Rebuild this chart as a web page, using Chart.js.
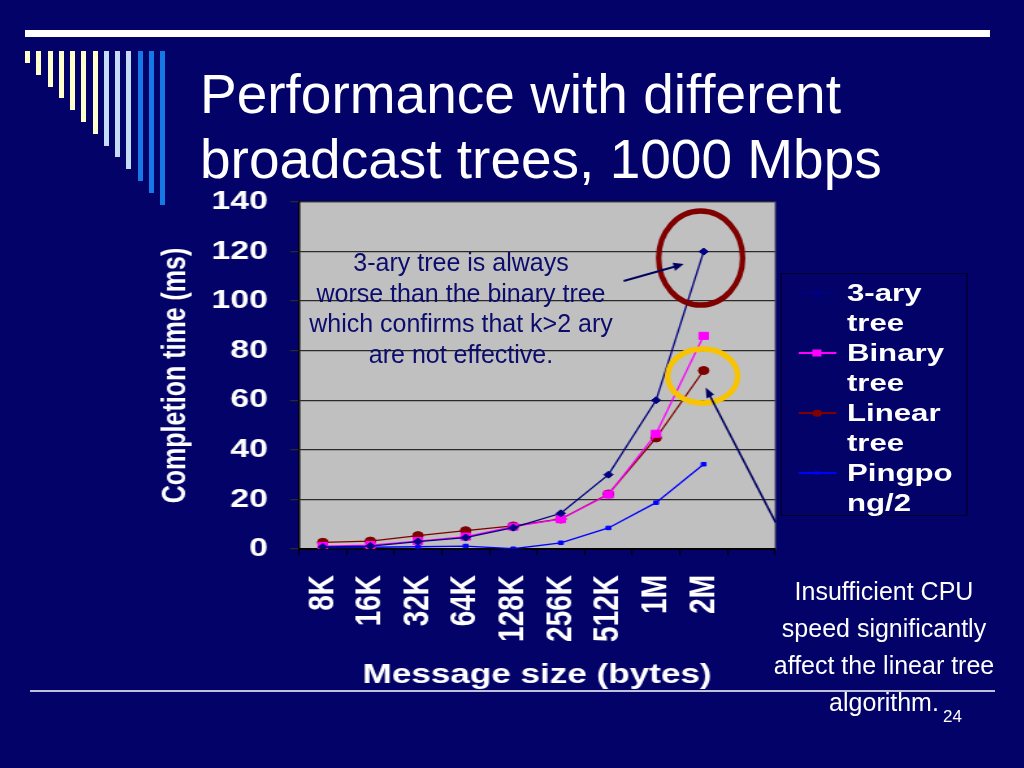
<!DOCTYPE html>
<html>
<head>
<meta charset="utf-8">
<script src="https://cdn.jsdelivr.net/npm/chart.js@4.4.1/dist/chart.umd.min.js"></script>
<style>
  html, body { margin: 0; padding: 0; }
  body {
    width: 1024px; height: 768px; position: relative; overflow: hidden;
    background: #020268; color: #fff;
    font-family: 'Liberation Sans', Arial, sans-serif;
  }
  .topline { position: absolute; left: 25px; top: 30px; width: 965px; height: 7px; background: #fff; }
  .bar { position: absolute; top: 51px; width: 5px; }
  .title { position: absolute; left: 200px; top: 62px; font-size: 55px; line-height: 65px; white-space: nowrap; }
  /* the chart object sits stretched horizontally on the slide */
  #chartBox { position: absolute; left: 150px; top: 0; width: 640px; height: 768px; transform-origin: 0 0; transform: scaleX(1.3); }
  #canvasWrap { position: absolute; left: 0; top: 0; width: 520px; height: 768px; }
  #legend {
    position: absolute; left: 484.6px; top: 273px; width: 144.6px; height: 243px;
    box-sizing: border-box; border: 1px solid #000030; padding-top: 4px;
    font-weight: bold; font-size: 24px; line-height: 30px;
  }
  .item { display: flex; padding-left: 13px; }
  .key { position: relative; width: 29px; height: 30px; flex: none; }
  .key .ln { position: absolute; left: 0; top: 14.3px; width: 29px; height: 1.4px; }
  .key .mk { position: absolute; left: 50%; top: 15px; transform: translate(-50%, -50%); }
  .lbl { width: 88px; margin-left: 8.5px; overflow-wrap: anywhere; }
  .callout { position: absolute; left: 261px; top: 247px; width: 400px; text-align: center; font-size: 25px; line-height: 30.5px; color: #0c0c6c; }
  .note { position: absolute; left: 754px; top: 573px; width: 260px; text-align: center; font-size: 25px; line-height: 37px; }
  .bottomline { position: absolute; left: 30px; top: 690px; width: 965px; height: 2px; background: #c0c0dc; }
  .pagenum { position: absolute; left: 943px; top: 708px; font-size: 17px; line-height: 17px; }
</style>
</head>
<body>
<div class="topline"></div>
<div id="bars"></div>
<div class="title">Performance with different<br>broadcast trees, 1000 Mbps</div>

<div id="chartBox">
  <div id="canvasWrap"><canvas id="chart"></canvas></div>
  <div id="legend"></div>
</div>

<div class="callout">3-ary tree is always<br>worse than the binary tree<br>which confirms that k&gt;2 ary<br>are not effective.</div>
<div class="bottomline"></div>
<div class="note">Insufficient CPU<br>speed significantly<br>affect the linear tree<br>algorithm.</div>
<div class="pagenum">24</div>

<script>
const S = 1.3; // horizontal stretch of the chart object

const sizes = ['8K', '16K', '32K', '64K', '128K', '256K', '512K', '1M', '2M', ''];
const threeAry = [0.8, 1.2, 3.0, 4.6, 8.6, 14.4, 30, 60, 120];
const binary = [1.2, 1.6, 3.2, 5.0, 9.0, 12.0, 22, 46.5, 86];
const linear = [2.7, 3.2, 5.4, 7.4, 9.3, 12.1, 22.2, 44.8, 72];
const pingpong = [0.5, 0.7, 0.9, 1.2, 0.1, 2.5, 8.5, 18.7, 34.2];

const seriesNames = ['3-ary tree', 'Binary tree', 'Linear tree', 'Pingpong/2'];
const seriesColors = ['#000080', '#ff00ff', '#800000', '#0000ff'];
const pointStyles = ['rectRot', 'rect', 'circle', 'rect'];
const pointSizes = [3.5, 5, 4, 2.5];

// slide decoration bars
const barColors = ['#ffffcc', '#ffffcc', '#ffffcc', '#ffffcc', '#ffffcc', '#ffffcc', '#ffffcc',
  '#c4dcf6', '#c4dcf6', '#c4dcf6', '#1478e6', '#1478e6', '#1478e6'];
const barsEl = document.getElementById('bars');
barColors.forEach((c, i) => {
  const b = document.createElement('div');
  b.className = 'bar';
  b.style.left = (25 + i * 11.25) + 'px';
  b.style.height = (12 + i * 11.8) + 'px';
  b.style.background = c;
  barsEl.appendChild(b);
});

const FONT = "'Liberation Sans', Arial, sans-serif";
Chart.defaults.font.family = FONT;

const plotBg = {
  id: 'plotBg',
  beforeDraw(chart) {
    const { ctx, chartArea: a } = chart;
    ctx.save();
    ctx.fillStyle = '#c0c0c0';
    ctx.fillRect(a.left, a.top, a.right - a.left, a.bottom - a.top);
    ctx.strokeStyle = '#808080';
    ctx.lineWidth = 1;
    ctx.strokeRect(a.left, a.top, a.right - a.left, a.bottom - a.top);
    ctx.restore();
  }
};

function ellipse(ctx, x, y, rx, ry, color, w) {
  ctx.beginPath();
  ctx.ellipse(x, y, rx, ry, 0, 0, Math.PI * 2);
  ctx.strokeStyle = color;
  ctx.lineWidth = w;
  ctx.stroke();
}

function arrow(ctx, x1, y1, x2, y2) {
  const ang = Math.atan2(y2 - y1, x2 - x1);
  ctx.strokeStyle = '#000060';
  ctx.fillStyle = '#000060';
  ctx.lineWidth = 2;
  ctx.beginPath();
  ctx.moveTo(x1, y1);
  ctx.lineTo(x2 - Math.cos(ang) * 6, y2 - Math.sin(ang) * 6);
  ctx.stroke();
  ctx.beginPath();
  ctx.moveTo(x2, y2);
  ctx.lineTo(x2 - Math.cos(ang - 0.4) * 11, y2 - Math.sin(ang - 0.4) * 11);
  ctx.lineTo(x2 - Math.cos(ang + 0.4) * 11, y2 - Math.sin(ang + 0.4) * 11);
  ctx.closePath();
  ctx.fill();
}

// circles and arrows around the 2M points, drawn in slide (unstretched) pixels
const marks = {
  id: 'marks',
  afterDraw(chart) {
    const ctx = chart.ctx;
    const top = chart.getDatasetMeta(0).data[8];
    const lin = chart.getDatasetMeta(2).data[8];
    ctx.save();
    ctx.scale(1 / S, 1);
    const tx = top.x * S, lx = lin.x * S;
    ellipse(ctx, tx - 3, top.y + 6.5, 42, 47, '#800000', 5.5);
    ellipse(ctx, lx - 1, lin.y + 5.5, 35, 27, '#f8c300', 5.5);
    arrow(ctx, tx - 80, top.y + 29.5, tx - 20, top.y + 12.5);
    arrow(ctx, lx + 72, lin.y + 152, lx + 2, lin.y + 17);
    ctx.restore();
  }
};

const values = [threeAry, binary, linear, pingpong];

new Chart(document.getElementById('chart'), {
  type: 'line',
  data: {
    labels: sizes,
    datasets: values.map((v, i) => ({
      label: seriesNames[i],
      data: v,
      borderColor: seriesColors[i],
      backgroundColor: seriesColors[i],
      borderWidth: 1.3,
      pointStyle: pointStyles[i],
      pointRadius: pointSizes[i],
      pointBorderWidth: 1,
      tension: 0
    }))
  },
  options: {
    responsive: true,
    maintainAspectRatio: false,
    animation: false,
    layout: { padding: { left: 0, top: 202, right: 39.2, bottom: 76 } },
    plugins: {
      legend: { display: false },
      tooltip: { enabled: false }
    },
    scales: {
      x: {
        offset: true,
        grid: { offset: true, drawOnChartArea: false, tickLength: 6, color: '#000' },
        border: { color: '#000', width: 2 },
        ticks: {
          color: '#fff', autoSkip: false, minRotation: 90, maxRotation: 90, padding: 20,
          font: { size: 28, weight: 'bold' }
        },
        title: {
          display: true, text: 'Message size (bytes)', color: '#fff', padding: 0,
          font: { size: 27, weight: 'bold' }
        },
        afterFit(s) { s.height = 143; }
      },
      y: {
        min: 0,
        max: 140,
        ticks: { stepSize: 20, color: '#fff', padding: 17, font: { size: 26, weight: 'bold' } },
        grid: { color: '#2a2a2a', lineWidth: 1.3, tickLength: 7 },
        border: { color: '#000', width: 1.5 },
        title: {
          display: true, text: 'Completion time (ms)', color: '#fff',
          padding: { top: 5, bottom: 0 },
          font: { size: 25, weight: 'bold' }
        },
        afterFit(s) { s.width = 114.6; }
      }
    }
  },
  plugins: [plotBg, marks]
});

// legend built from the series
const legendEl = document.getElementById('legend');
const markerCss = {
  rectRot: 'width:5.6px;height:5.6px;transform:translate(-50%,-50%) rotate(45deg);',
  rect: 'width:7px;height:7px;',
  circle: 'width:6.5px;height:6.5px;border-radius:50%;'
};
seriesNames.forEach((name, i) => {
  const item = document.createElement('div');
  item.className = 'item';
  let css = markerCss[pointStyles[i]];
  if (i === 3) css = 'width:4px;height:3px;';
  item.innerHTML =
    '<div class="key"><div class="ln" style="background:' + seriesColors[i] + '"></div>' +
    '<div class="mk" style="' + css + 'background:' + seriesColors[i] + '"></div></div>' +
    '<div class="lbl">' + name + '</div>';
  legendEl.appendChild(item);
});
</script>
</body>
</html>
